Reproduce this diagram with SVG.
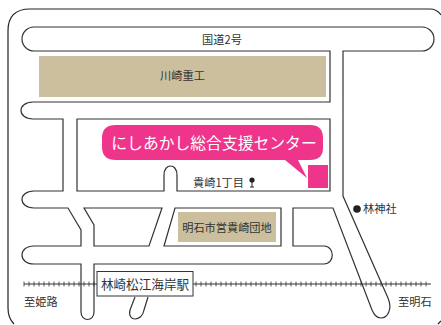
<svg xmlns="http://www.w3.org/2000/svg" width="441" height="325" viewBox="0 0 441 325">
<style>
.r{fill:none;stroke:#333;stroke-width:1.2}
.o{fill:none;stroke:#222;stroke-width:1.2}
.t{font-family:"Noto Sans CJK JP","Noto Sans",sans-serif;font-size:11.200px;fill:#333}
.tan{fill:#cbbf9d}
.p{fill:#ee348b}
</style>
<rect width="441" height="325" fill="#fff"/>
<g id="connectors">
<path class="o" d="M14 324Q8 318 8 308V31Q8 9 30 9H430Q437 9 441 15"/>
<path class="o" d="M441 321L438 324"/>
<path class="r" d="M330 51H34A12 12 0 0 1 34 27H422A12 12 0 0 1 422 51H343V196L388 298C393 310 387 318 381 318C376 318 374 314 372 310L333 208H293V246H324C335 246 335 264 324 264H94V312C94 322 81 322 81 312V264H34C18 264 18 246 34 246H81V230L68 208H34C18 208 18 191 34 191H63V119H33C17 119 17 102 33 102H330Z"/>
<path class="r" d="M77 119H330V191H177V175C177 163 164 163 164 175V191H77Z"/>
<path class="r" d="M84 208H162L149 246H94V225Z"/>
<path class="r" d="M175 208H281V246H164Z"/>
<path class="r" d="M135 297L130 310C127 322 142 322 144 310L148 297"/>
<path d="M24 284H431" stroke="#333" stroke-width="1.200" fill="none"/>
<path d="M24 281.500V286.500M29 281.500V286.500M34 281.500V286.500M39 281.500V286.500M44 281.500V286.500M49 281.500V286.500M54 281.500V286.500M59 281.500V286.500M64 281.500V286.500M69 281.500V286.500M74 281.500V286.500M79 281.500V286.500M84 281.500V286.500M89 281.500V286.500M94 281.500V286.500M196 281.500V286.500M201 281.500V286.500M206 281.500V286.500M211 281.500V286.500M216 281.500V286.500M221 281.500V286.500M226 281.500V286.500M231 281.500V286.500M236 281.500V286.500M241 281.500V286.500M246 281.500V286.500M251 281.500V286.500M256 281.500V286.500M261 281.500V286.500M266 281.500V286.500M271 281.500V286.500M276 281.500V286.500M281 281.500V286.500M286 281.500V286.500M291 281.500V286.500M296 281.500V286.500M301 281.500V286.500M306 281.500V286.500M311 281.500V286.500M316 281.500V286.500M321 281.500V286.500M326 281.500V286.500M331 281.500V286.500M336 281.500V286.500M341 281.500V286.500M346 281.500V286.500M351 281.500V286.500M356 281.500V286.500M361 281.500V286.500M366 281.500V286.500M371 281.500V286.500M376 281.500V286.500M381 281.500V286.500M386 281.500V286.500M391 281.500V286.500M396 281.500V286.500M401 281.500V286.500M406 281.500V286.500M411 281.500V286.500M416 281.500V286.500M421 281.500V286.500M426 281.500V286.500" stroke="#333" stroke-width="0.800" fill="none"/>
</g>
<g id="kawasaki"><rect class="tan" x="39" y="56" width="287" height="41"/><text class="t" x="182.500" y="79.500" text-anchor="middle">川崎重工</text></g>
<g id="route2"><text class="t" x="222" y="44" text-anchor="middle">国道2号</text></g>
<g id="center"><path class="p" d="M116 125H310Q323 125 323 138V148Q323 160 310 160H298L307 178L285 160H116Q102 160 102 147V138Q102 125 116 125Z"/><rect class="p" x="308" y="165" width="20" height="23"/><text x="214" y="149" text-anchor="middle" font-family="'Noto Sans CJK JP','Noto Sans',sans-serif" font-size="15.800" fill="#fff">にしあかし総合支援センター</text></g>
<g id="takasaki"><text class="t" x="193" y="187">貴崎1丁目</text><circle cx="252" cy="180" r="2.600" fill="#222"/><path d="M252 182V187M250 187H254" stroke="#222" fill="none"/></g>
<g id="danchi"><rect class="tan" x="178" y="212" width="98" height="30"/><text class="t" x="227" y="232" text-anchor="middle">明石市営貴崎団地</text></g>
<g id="shrine"><circle cx="357" cy="209" r="3.800" fill="#222"/><text class="t" x="363" y="213">林神社</text></g>
<g id="station"><rect x="97" y="271.500" width="96" height="24.500" fill="#fff" stroke="#333" stroke-width="1"/><text x="145" y="289" text-anchor="middle" font-family="'Noto Sans CJK JP','Noto Sans',sans-serif" font-size="12.600" fill="#333">林崎松江海岸駅</text></g>
<g id="himeji"><text class="t" x="24" y="306">至姫路</text></g>
<g id="akashi"><text class="t" x="398" y="306">至明石</text></g>
</svg>
